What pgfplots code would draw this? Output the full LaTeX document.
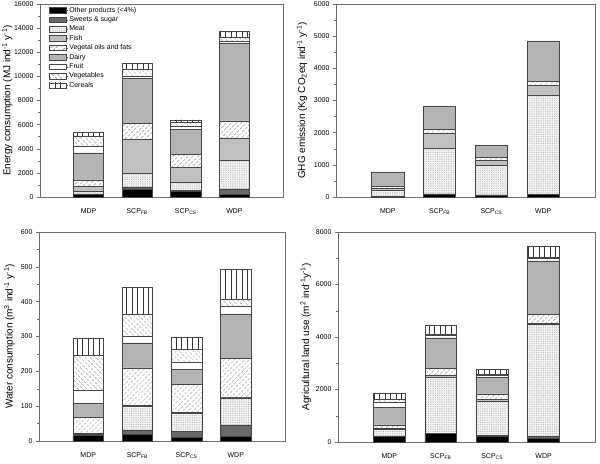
\documentclass[border=0pt]{standalone}
\usepackage{fontspec}
\setmainfont{Liberation Sans}
\usepackage{pgfplots}
\usepackage{pgfplotstable}
\pgfplotsset{compat=1.18}
\usetikzlibrary{patterns,patterns.meta}

\definecolor{sweetsc}{RGB}{105,105,105}
\definecolor{fishc}{RGB}{192,192,192}
\definecolor{dairyc}{RGB}{180,180,180}
\definecolor{edgec}{RGB}{70,70,70}
\definecolor{axisc}{RGB}{110,110,110}

% layer values (not cumulative): x other sweets meat fish oils dairy fruit veg cereals
\pgfplotstableread{
x other sweets meat fish oils dairy fruit veg cereals
1 220 40 180 420 570 2220 560 830 310
2 680 160 1110 2810 1360 3700 220 580 470
3 470 100 630 1300 1020 2070 310 320 180
4 240 440 2380 1840 1410 6435 175 350 450
}\energy
\pgfplotstableread{
x other sweets meat fish oils dairy fruit veg cereals
1 10 5 205 40 80 440 0 0 0
2 100 0 1420 465 125 710 0 0 0
3 70 0 910 170 90 370 0 0 0
4 90 0 3060 320 130 1250 0 0 0
}\ghg
\pgfplotstableread{
x other sweets meat fish oils dairy fruit veg cereals
1 16 3 3 0 45 40 38 101 50
2 19 12 69 3 107 72 19 63 78
3 10 18 51 3 81 43 21 36 36
4 13 33 78 2 112 125 25 18 87
}\water
\pgfplotstableread{
x other sweets meat fish oils dairy fruit veg cereals
1 215 15 265 25 130 680 170 120 250
2 330 10 2120 90 250 1170 100 50 330
3 215 25 1330 50 210 620 80 50 200
4 150 65 4275 30 350 2030 90 50 400
}\land

\tikzset{
  bb/.style={draw=edgec, line width=0.5bp},
  st other/.style={bb, fill=black},
  st sweets/.style={bb, fill=sweetsc},
  st meat/.style={bb, fill=gray!8, postaction={pattern={Dots[distance=1.8bp,radius=0.35bp]}, pattern color=gray}},
  st fish/.style={bb, fill=fishc},
  st oils/.style={bb, fill=white, postaction={pattern={Lines[angle=45,distance=3.6bp,line width=0.55bp]}, pattern color=black!80}},
  st dairy/.style={bb, fill=dairyc},
  st fruit/.style={bb, fill=white},
  st veg/.style={bb, fill=white, postaction={pattern={Lines[angle=-45,distance=3.6bp,line width=0.55bp]}, pattern color=black!80}},
  st cereals/.style={bb, fill=white, postaction={pattern={Lines[angle=90,distance=5.5bp,line width=0.55bp]}, pattern color=black!80}},
}

\newcommand{\stackplots}[1]{%
  \addplot[st other] table[x=x,y=other]{#1};
  \addplot[st sweets] table[x=x,y=sweets]{#1};
  \addplot[st meat] table[x=x,y=meat]{#1};
  \addplot[st fish] table[x=x,y=fish]{#1};
  \addplot[st oils] table[x=x,y=oils]{#1};
  \addplot[st dairy] table[x=x,y=dairy]{#1};
  \addplot[st fruit] table[x=x,y=fruit]{#1};
  \addplot[st veg] table[x=x,y=veg]{#1};
  \addplot[st cereals] table[x=x,y=cereals]{#1};
}

\pgfplotsset{
  panel/.style={
    scale only axis,
    ybar stacked,
    bar width=0.62,
    xmin=0, xmax=5, ymin=0,
    xtick={1,2,3,4},
    xticklabels={MDP, SCP\textsubscript{FB}, SCP\textsubscript{CS}, WDP},
    x tick style={draw=none},
    ytick pos=left,
    tick align=outside,
    major tick length=3bp,
    minor tick length=2bp,
    minor y tick num=1,
    axis line style={draw=axisc, line width=0.6bp},
    every tick/.style={draw=axisc, line width=0.5bp},
    tick label style={font=\fontsize{7}{8}\selectfont},
    label style={font=\fontsize{10}{12}\selectfont},
    /pgf/number format/1000 sep={},
    /pgf/number format/assume math mode=true,
    scaled y ticks=false,
    xticklabel style={yshift=-5bp},
    ylabel style={anchor=center, rotate=0},
  },
}

\begin{document}
\begin{tikzpicture}
\useasboundingbox (0,0) rectangle (600bp,-464bp);

\begin{axis}[panel, at={(40bp,-197bp)}, anchor=south west,
  width=243bp, height=193bp, ymax=16000, ytick distance=2000,
  ylabel={Energy consumption (MJ ind\textsuperscript{-1} y\textsuperscript{-1})},
  ylabel style={at={(axis description cs:-0.135,0.5)}},
  legend cell align=left,
  legend style={at={(axis description cs:0.035,0.99)}, anchor=north west, draw=none, fill=none,
    font=\fontsize{7}{7.5}\selectfont, row sep=0.7bp, inner sep=0pt,
    nodes={inner sep=1.1bp}},
  legend image code/.code={\draw[#1] (0bp,-2.8bp) rectangle (17bp,2.8bp);
    \path (17bp,0bp) -- (19bp,0bp);},
]
\stackplots{\energy}
\legend{Other products (<4\%), Sweets \& sugar, Meat, Fish, Vegetal oils and fats, Dairy, Fruit, Vegetables, Cereals}
\end{axis}

\begin{axis}[panel, at={(336bp,-197bp)}, anchor=south west,
  width=259bp, height=193bp, ymax=6000, ytick distance=1000,
  ylabel={GHG emission (Kg CO\textsubscript{2}eq ind\textsuperscript{-1} y\textsuperscript{-1})},
  ylabel style={at={(axis description cs:-0.131,0.5)}},
]
\stackplots{\ghg}
\end{axis}

\begin{axis}[panel, at={(39bp,-441bp)}, anchor=south west,
  width=246bp, height=209bp, ymax=600, ytick distance=100,
  ylabel={Water consumption (m\textsuperscript{3} ind\textsuperscript{-1} y\textsuperscript{-1})},
  ylabel style={at={(axis description cs:-0.12,0.5)}},
]
\stackplots{\water}
\end{axis}

\begin{axis}[panel, at={(338bp,-442bp)}, anchor=south west,
  width=257bp, height=210bp, ymax=8000, ytick distance=2000,
  ylabel={Agricultural land use (m\textsuperscript{2} ind\textsuperscript{-1}y\textsuperscript{-1})},
  ylabel style={at={(axis description cs:-0.125,0.5)}},
]
\stackplots{\land}
\end{axis}
\end{tikzpicture}
\end{document}
